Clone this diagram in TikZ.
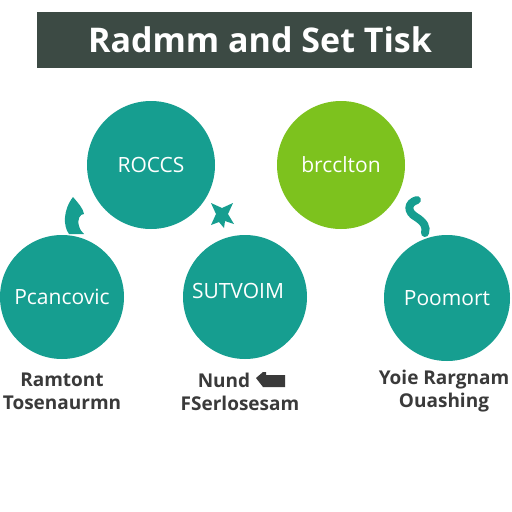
\documentclass[tikz,border=0pt]{standalone}
\usepackage{fontspec}
\setmainfont{Open Sans}
\definecolor{banner}{HTML}{3C4A44}
\definecolor{tealc}{HTML}{169E90}
\definecolor{limec}{HTML}{7DC21E}
\definecolor{txtgray}{HTML}{3A3A3A}
\begin{document}
\begin{tikzpicture}[x=1pt,y=-1pt,
  bubble/.style={circle, draw=none, text=white, inner sep=0pt, font=\fontsize{21}{24}\selectfont},
  caption/.style={text=txtgray, font=\bfseries\fontsize{19}{22}\selectfont, inner sep=0pt, anchor=center},
  titletext/.style={text=white, font=\bfseries\fontsize{34}{40}\selectfont, inner sep=0pt}]
\useasboundingbox (0,0) rectangle (512,512);
\fill[white] (0,0) rectangle (512,512);
% banner
\fill[banner] (37,12) rectangle (472,68);
\node[titletext] (title) at (260,40) {Radmm and Set Tisk};
% circles
\node[bubble, fill=tealc, minimum size=128pt] (c1) at (151,165) {ROCCS};
\node[bubble, fill=limec, minimum size=128pt] (c2) at (341,165) {brcclton};
\node[bubble, fill=tealc, minimum size=124pt] (c3) at (62,297) {Pcancovic};
\node[bubble, fill=tealc, minimum size=124pt] (c4) at (245,297) {};
\node[bubble] (c4t) at (238,291) {SUTVOIM};
\node[bubble, fill=tealc, minimum size=126pt] (c5) at (447,298) {Poomort};
% small connector shapes
\fill[tealc] (73,197) .. controls (78,203) and (83,208) .. (84,214)
  .. controls (80,214) and (77,219) .. (79,226)
  .. controls (80,230) and (82,232) .. (84,234) -- (69,234)
  .. controls (63,226) and (63,210) .. (73,197) -- cycle;
\fill[tealc] (222,208) -- (233,203) -- (228,214) -- (234,224)
  -- (225,221) -- (224,228) -- (219,222) -- (211,225) -- (216,214)
  -- (211,203) -- cycle;
\draw[tealc, line width=8pt, line cap=round] (417,200) .. controls (407,203) and (407,212) .. (416,217)
  .. controls (424,222) and (427,227) .. (425,233);
% captions
\node[caption] (l1a) at (62,380) {Ramtont};
\node[caption] (l1b) at (62,403) {Tosenaurmn};
\node[caption] (l2a) at (224,380) {Nund};
\node[caption] (l2b) at (240,403) {FSerlosesam};
\fill[txtgray] (256,378) -- (263,372) -- (266,372) -- (266,375) -- (285,375) -- (285,387) -- (266,387) -- (263,387) -- cycle;
\node[caption] (l3a) at (444,380) {Yoie Rargnam};
\node[caption] (l3b) at (444,403) {Ouashing};
\end{tikzpicture}
\end{document}
